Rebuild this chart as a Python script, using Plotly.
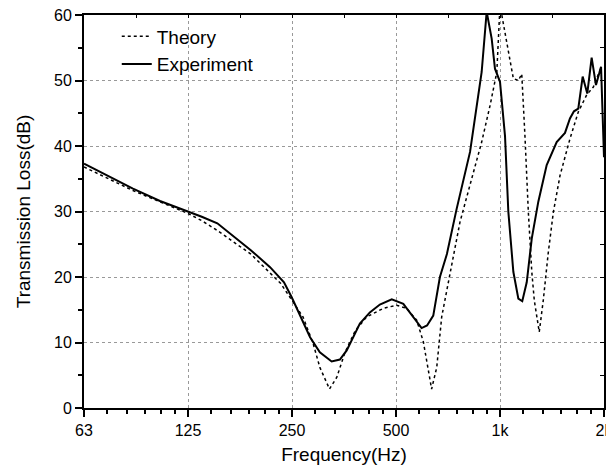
import plotly.graph_objects as go

# Experiment (solid)
exp_freq = [62.5, 86.6, 103.7, 125, 137, 152, 170, 190, 216, 237, 249.5, 264, 282, 301,
            325.6, 344, 360, 393, 420, 449, 486, 525, 560, 593, 615, 641, 670,
            702, 749, 819, 885, 915, 946, 967, 1000, 1034, 1057, 1093, 1130,
            1160, 1195, 1236, 1291, 1365, 1459, 1542, 1594, 1637, 1685, 1735,
            1789, 1842, 1896, 1961, 2000]
exp_tl = [37.3, 33.5, 31.6, 30.0, 29.2, 28.2, 26.1, 24.1, 21.5, 19.2, 16.9, 14.1, 10.8, 8.5,
          7.1, 7.4, 8.8, 12.9, 14.6, 15.8, 16.6, 15.9, 14.0, 12.2, 12.6, 14.1, 20.0,
          23.5, 30.4, 39.1, 51.3, 60.5, 56.4, 51.8, 49.8, 41.5, 30.0, 20.8, 16.7,
          16.3, 19.2, 25.9, 31.5, 37.1, 40.6, 42.0, 44.2, 45.3, 45.7, 50.6,
          48.0, 53.5, 49.3, 52.1, 38.3]

# Theory (dotted)
th_freq = [62.5, 86.6, 125, 137, 152, 170, 190, 232, 249.5, 269, 288, 301, 321, 337, 356,
           381, 411, 459, 502, 537, 574, 600, 634, 656, 678, 717, 766, 828, 885,
           936, 979, 1000, 1046, 1093, 1130, 1156, 1181, 1208, 1236, 1257, 1299,
           1334, 1380, 1427, 1492, 1594, 1685, 1782, 1863, 1961]
th_tl = [36.8, 33.2, 29.7, 28.6, 27.1, 25.3, 23.5, 19.0, 16.4, 13.9, 9.8, 6.2, 2.9, 4.7, 8.5,
         11.8, 13.9, 15.2, 15.7, 15.2, 13.4, 10.1, 2.9, 6.2, 13.9, 20.8, 28.4, 35.0, 40.6,
         46.2, 51.3, 61.5, 55.7, 50.3, 50.0, 51.0, 41.5, 29.9, 20.8, 16.4, 11.6,
         16.4, 23.8, 29.9, 35.5, 41.1, 45.2, 47.8, 49.0, 52.0]

tick_vals = [62.5, 125, 250, 500, 1000, 2000]
tick_text = ["63", "125", "250", "500", "1k", "2k"]
y_major = [0, 10, 20, 30, 40, 50, 60]
y_minor = [5, 15, 25, 35, 45, 55]

FONT = "Arial, Liberation Sans, sans-serif"

minor_x = [a + k * a / 6 for a in tick_vals[:-1] for k in range(1, 6)]
half_oct = [a * 2 ** 0.5 for a in tick_vals[:-1]]
top_ticks = sorted(tick_vals + half_oct)

fig = go.Figure()
fig.add_trace(go.Scatter(x=th_freq, y=th_tl, mode="lines", name="Theory",
                         line=dict(color="black", width=1.5, dash="dot")))
fig.add_trace(go.Scatter(x=exp_freq, y=exp_tl, mode="lines", name="Experiment",
                         line=dict(color="black", width=2)))
# hidden copy so the top/right frame axes get drawn
fig.add_trace(go.Scatter(x=exp_freq, y=exp_tl, mode="lines", xaxis="x2", yaxis="y2",
                         line=dict(width=0), opacity=0, showlegend=False,
                         hoverinfo="skip"))

xr = [1.79588, 3.30103]  # log10(62.5), log10(2000)

# page body adds an 8px margin, so the figure is a bit smaller than the window
fig.update_layout(
    width=606, height=457,
    margin=dict(l=76, r=10, t=7, b=57),
    paper_bgcolor="white", plot_bgcolor="white",
    font=dict(family=FONT, size=16, color="black"),
    showlegend=True,
    legend=dict(x=0.063, y=0.994, xanchor="left", yanchor="top",
                bgcolor="rgba(0,0,0,0)", font=dict(size=19), tracegroupgap=0),
    xaxis=dict(
        type="log", range=xr, tickmode="array", tickvals=tick_vals, ticktext=tick_text,
        ticks="outside", ticklen=7, tickwidth=1.5, tickcolor="black",
        showline=True, linecolor="black", linewidth=2,
        showgrid=True, gridcolor="#999999", griddash="dot", gridwidth=1,
        zeroline=False, automargin=False, ticklabeloverflow="allow",
        minor=dict(tickvals=minor_x, ticks="outside", ticklen=4, tickcolor="black",
                   tickwidth=1.5, showgrid=False),
        title=dict(text="Frequency(Hz)", font=dict(size=19), standoff=13),
    ),
    yaxis=dict(
        range=[0, 60], tickmode="array", tickvals=y_major,
        ticks="outside", ticklen=7, tickwidth=1.5, tickcolor="black",
        showline=True, linecolor="black", linewidth=2,
        showgrid=True, gridcolor="#999999", griddash="dot", gridwidth=1,
        zeroline=False, automargin=False, ticklabeloverflow="allow",
        minor=dict(tickvals=y_minor, ticks="outside", ticklen=4,
                   tickcolor="black", tickwidth=1.5, showgrid=False),
        title=dict(text="Transmission Loss(dB)", font=dict(size=19), standoff=18),
    ),
    xaxis2=dict(
        type="log", range=xr, overlaying="x", side="top", anchor="y2",
        tickmode="array", tickvals=top_ticks, ticks="inside", ticklen=3,
        tickcolor="black", showticklabels=False, showgrid=False, zeroline=False,
        showline=True, linecolor="black", linewidth=1.5,
    ),
    yaxis2=dict(
        range=[0, 60], overlaying="y", side="right", anchor="x2",
        tickmode="array", tickvals=sorted(y_major + y_minor),
        ticks="inside", ticklen=4, tickcolor="black", showticklabels=False,
        showgrid=False, zeroline=False, showline=True, linecolor="black", linewidth=1.5,
    ),
)

fig.write_html("out.html")
